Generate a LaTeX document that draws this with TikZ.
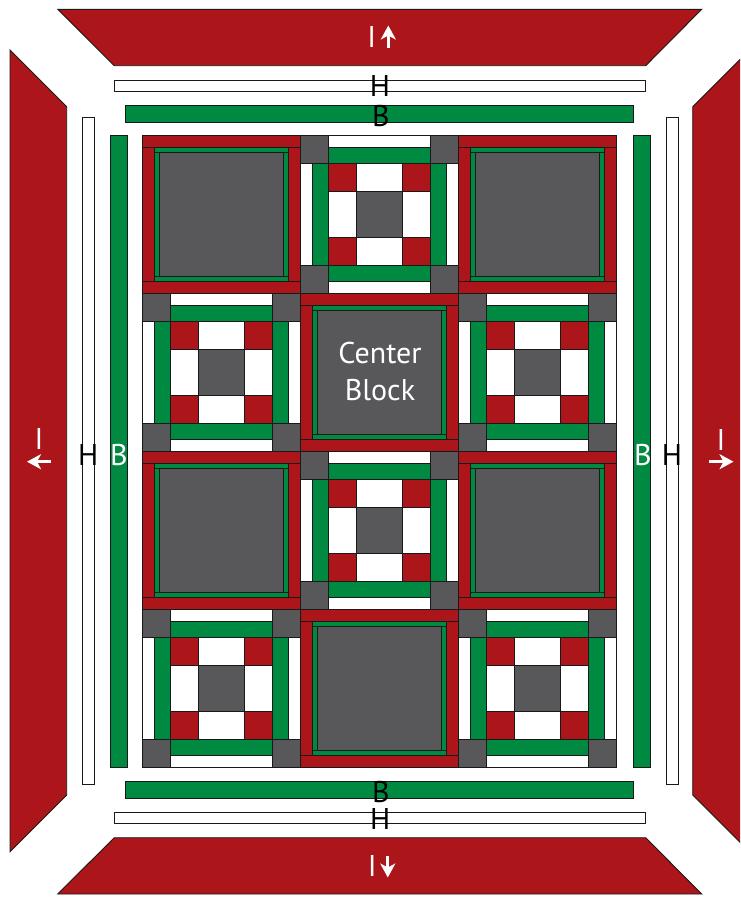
\documentclass[tikz,border=0pt]{standalone}
\usepackage{fontspec}
\setmainfont{PT Sans}
\usetikzlibrary{arrows.meta}
\definecolor{qred}{RGB}{172,21,26}
\definecolor{qgreen}{RGB}{0,137,64}
\definecolor{qgray}{RGB}{88,87,90}
\def\qs{158.2}
\tikzset{
  piece/.style={draw=black!90, line width=0.9pt, line join=miter},
  redp/.style={piece, fill=qred},
  greenp/.style={piece, fill=qgreen},
  grayp/.style={piece, fill=qgray},
  whitep/.style={piece, fill=white},
  lbl/.style={font=\fontsize{30}{37}\selectfont, inner sep=0pt},
  larrow/.style={white, line width=3pt, -{Stealth[length=14pt,width=15pt,inset=4pt]}},
  framed/.pic={
    \path[redp] (0,0) rectangle (\qs,12);
    \path[redp] (0,\qs-12) rectangle (\qs,\qs);
    \path[redp] (0,12) rectangle (12,\qs-12);
    \path[redp] (\qs-12,12) rectangle (\qs,\qs-12);
    \path[greenp] (12,12) rectangle (\qs-12,17);
    \path[greenp] (12,\qs-17) rectangle (\qs-12,\qs-12);
    \path[greenp] (12,17) rectangle (17,\qs-17);
    \path[greenp] (\qs-17,17) rectangle (\qs-12,\qs-17);
    \path[grayp] (17,17) rectangle (\qs-17,\qs-17);
  },
  ninep/.pic={
    % corner squares
    \path[grayp] (0,0) rectangle (28,28);
    \path[grayp] (\qs-28,0) rectangle (\qs,28);
    \path[grayp] (0,\qs-28) rectangle (28,\qs);
    \path[grayp] (\qs-28,\qs-28) rectangle (\qs,\qs);
    % white outer strips
    \path[whitep] (28,0) rectangle (\qs-28,12);
    \path[whitep] (28,\qs-12) rectangle (\qs-28,\qs);
    \path[whitep] (0,28) rectangle (12,\qs-28);
    \path[whitep] (\qs-12,28) rectangle (\qs,\qs-28);
    % green strips
    \path[greenp] (28,12) rectangle (\qs-28,28);
    \path[greenp] (28,\qs-28) rectangle (\qs-28,\qs-12);
    \path[greenp] (12,28) rectangle (28,\qs-28);
    \path[greenp] (\qs-28,28) rectangle (\qs-12,\qs-28);
    % nine patch
    \path[redp] (28,28) rectangle (56,56);
    \path[redp] (\qs-56,28) rectangle (\qs-28,56);
    \path[redp] (28,\qs-56) rectangle (56,\qs-28);
    \path[redp] (\qs-56,\qs-56) rectangle (\qs-28,\qs-28);
    \path[whitep] (56,28) rectangle (\qs-56,56);
    \path[whitep] (56,\qs-56) rectangle (\qs-56,\qs-28);
    \path[whitep] (28,56) rectangle (56,\qs-56);
    \path[whitep] (\qs-56,56) rectangle (\qs-28,\qs-56);
    \path[grayp] (56,56) rectangle (\qs-56,\qs-56);
  }
}
\begin{document}
\begin{tikzpicture}[x=1pt,y=-1pt]
\useasboundingbox (0,0) rectangle (740,897);
\clip (0,0) rectangle (740,897);
% outer I borders
\path[redp] (57.7,9.3) -- (701.7,9.3) -- (645.7,65.7) -- (114.3,65.7) -- cycle;
\path[redp] (114.3,837.7) -- (645.7,837.7) -- (701.7,894) -- (57.7,894) -- cycle;
\path[redp] (10,50) -- (66.7,106.7) -- (66.7,795) -- (10,851.7) -- cycle;
\path[redp] (749.4,50) -- (692.7,106.7) -- (692.7,795) -- (749.4,851.7) -- cycle;
% H borders
\path[whitep] (114.3,80) rectangle (645.7,91);
\path[whitep] (114.3,812.3) rectangle (645.7,823.3);
\path[whitep] (82.7,117.7) rectangle (94.3,784.3);
\path[whitep] (666.7,117.7) rectangle (678.3,784.3);
% B borders
\path[greenp] (125.3,105) rectangle (633.7,122);
\path[greenp] (125.3,781.3) rectangle (633.7,798.3);
\path[greenp] (110,135) rectangle (127,767.7);
\path[greenp] (633.3,135) rectangle (650.5,767.7);
% blocks
\foreach \r in {0,...,3} {
  \foreach \c in {0,1,2} {
    \pgfmathtruncatemacro{\qpar}{mod(\r+\c,2)}
    \ifnum\qpar=0
      \pic at (142+\c*\qs, 135+\r*\qs) {framed};
    \else
      \pic at (142+\c*\qs, 135+\r*\qs) {ninep};
    \fi
  }
}
% labels
\node[lbl, text=white, align=center] (cb) at (380,371) {Center\\Block};
% top
\node[lbl, text=white] (itop) at (371.7,36.5) {I};
\coordinate (ita) at (388.3,48.3);
\coordinate (itb) at (388.3,25.5);
\draw[larrow] (ita) -- (itb);
\node[lbl] (htop) at (380,86.3) {H};
\node[lbl] (btop) at (380.8,115.5) {B};
% bottom
\node[lbl] (bbot) at (380.8,791.5) {B};
\node[lbl] (hbot) at (380.3,819) {H};
\node[lbl, text=white] (ibot) at (372.3,866) {I};
\coordinate (iba) at (387.8,855.5);
\coordinate (ibb) at (387.8,877.5);
\draw[larrow] (iba) -- (ibb);
% left
\node[lbl, text=white] (ileft) at (39,439) {I};
\coordinate (ila) at (50.7,461.7);
\coordinate (ilb) at (27,461.7);
\draw[larrow] (ila) -- (ilb);
\node[lbl] (hleft) at (88.3,454.5) {H};
\node[lbl, text=white] (bleft) at (118.8,454.5) {B};
% right
\node[lbl, text=white] (bright) at (643,455) {B};
\node[lbl] (hright) at (672,455) {H};
\node[lbl, text=white] (iright) at (721,439.5) {I};
\coordinate (ira) at (709.3,461.7);
\coordinate (irb) at (733.5,461.7);
\draw[larrow] (ira) -- (irb);
\end{tikzpicture}
\end{document}
